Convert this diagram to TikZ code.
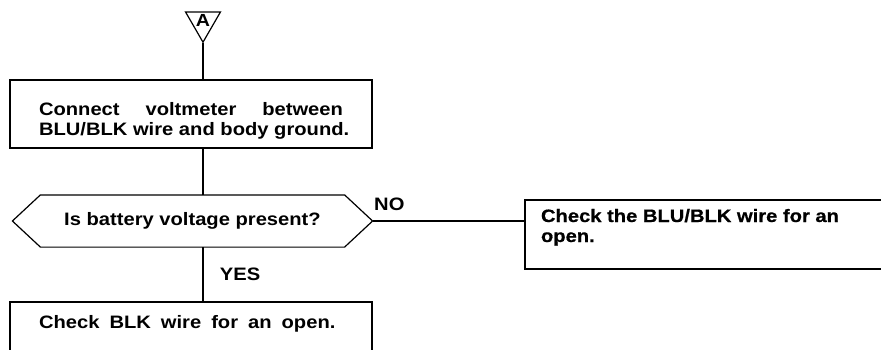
\documentclass[tikz,border=0pt]{standalone}
\usepackage{fontspec}
\setmainfont{Liberation Sans}[FakeStretch=1.12]
\newfontfamily\heavyfont{Liberation Sans}[FakeStretch=1.12,BoldFeatures={FakeBold=0.6}]
\usetikzlibrary{shapes.geometric}
\begin{document}
\begin{tikzpicture}[x=1pt, y=-1pt, line width=1.2pt,
  every node/.style={font=\fontsize{18}{20}\selectfont\bfseries},
  stepbox/.style={draw,rectangle,inner sep=0pt},
  connector/.style={draw,regular polygon,regular polygon sides=3,shape border rotate=180,minimum size=40.4pt,inner sep=0pt}]
\useasboundingbox (0,0) rectangle (881,349);
\node[connector] (conA) at (203,22) {};
\node[font=\fontsize{17.5}{17.5}\selectfont\bfseries,inner sep=0pt] (conAtxt) at (203,20.5) {A};
\node[stepbox,minimum width=362pt] (connect) at (191,114)
  {\parbox[c][68pt][t]{304pt}{\rule{0pt}{35pt}Connect\hfill voltmeter\hfill between\\\mbox{BLU/BLK wire and body ground.}}};
% decision hexagon
\node[minimum width=359pt,minimum height=51pt,inner sep=0pt] (battery) at (192.5,221) {Is battery voltage present?};
\draw (battery.west) -- ([xshift=28pt]battery.north west) -- ([xshift=-28pt]battery.north east) -- (battery.east)
  -- ([xshift=-28pt]battery.south east) -- ([xshift=28pt]battery.south west) -- cycle;
\node[stepbox,minimum width=375pt,font=\fontsize{18}{20}\heavyfont\bfseries] (bluopen) at (712.5,234.5)
  {\parbox[c][69pt][t]{343pt}{\rule{0pt}{22pt}Check the BLU/BLK wire for an\\open.}};
\node[stepbox,minimum width=362pt] (blkopen) at (191,336)
  {\parbox[c][68pt][t]{304pt}{\rule{0pt}{26pt}\spaceskip=10pt Check BLK wire for an open.}};
\draw (conA.corner 1) -- (conA.corner 1 |- connect.north);
\draw (conA.corner 1 |- connect.south) -- (conA.corner 1 |- battery.north);
\draw (conA.corner 1 |- battery.south) -- (conA.corner 1 |- blkopen.north) node[midway,right=13pt] {YES};
\draw (battery.east) -- (battery.east -| bluopen.west) node[pos=0,anchor=south west,inner sep=0pt,xshift=1pt,yshift=10pt] {NO};
\end{tikzpicture}
\end{document}
